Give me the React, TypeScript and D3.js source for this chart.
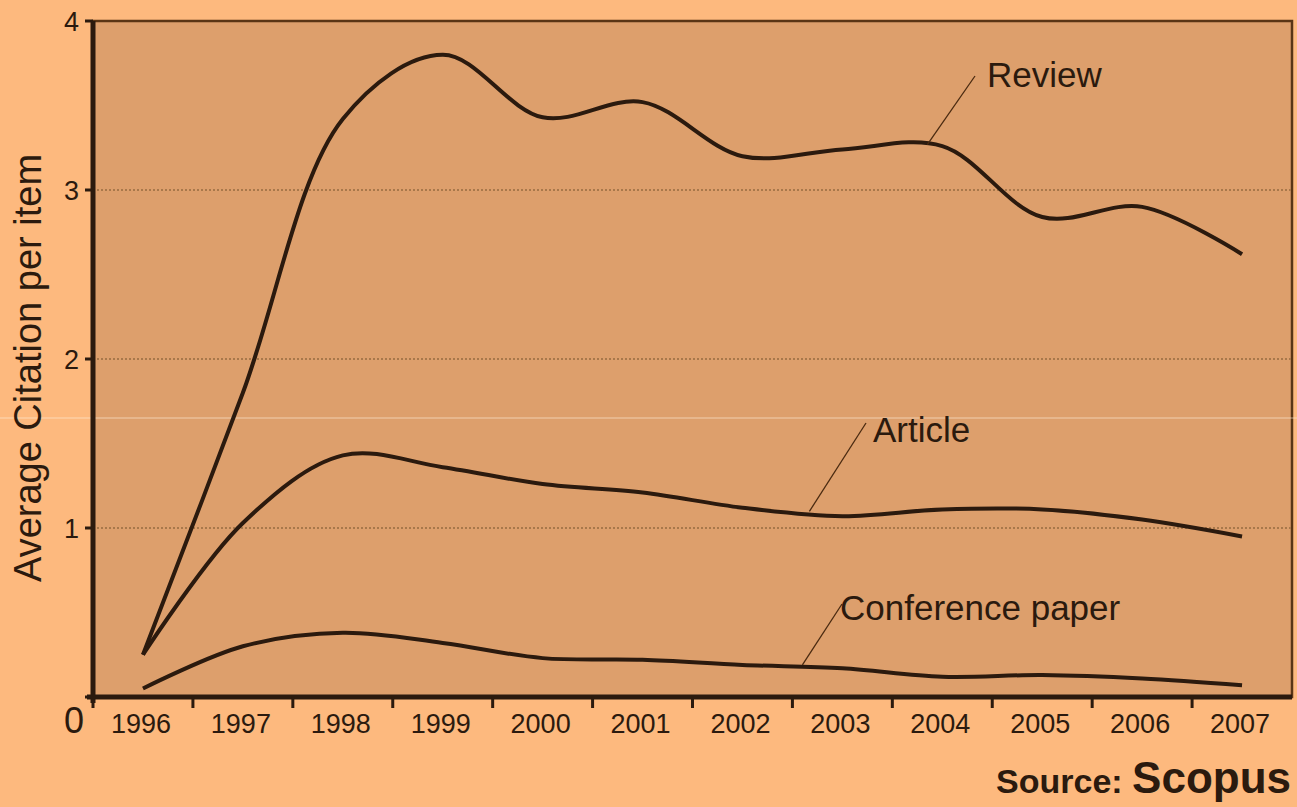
import React, { useEffect, useRef } from 'react';
import * as d3 from 'd3';

const years = ['1996', '1997', '1998', '1999', '2000', '2001', '2002', '2003', '2004', '2005', '2006', '2007'];
const reviewValues = [0.25, 1.8, 3.42, 3.8, 3.43, 3.52, 3.2, 3.24, 3.26, 2.84, 2.9, 2.62];
const articleValues = [0.25, 1.03, 1.43, 1.36, 1.26, 1.21, 1.12, 1.07, 1.11, 1.11, 1.05, 0.95];
const conferenceValues = [0.05, 0.3, 0.38, 0.32, 0.23, 0.22, 0.19, 0.17, 0.12, 0.13, 0.11, 0.07];
const yTicks = [0, 1, 2, 3, 4];

const W = 1297;
const H = 807;

export default function App() {
  const svgRef = useRef<SVGSVGElement>(null);

  useEffect(() => {
    if (!svgRef.current) return;
    const root = d3.select(svgRef.current);
    root.selectAll('*').remove();

    const left = 93, right = 1292, top = 21, bottom = 697;
    const ink = '#2b1a0e';
    const font = 'Liberation Sans, Arial, sans-serif';

    root.append('rect').attr('width', W).attr('height', H).attr('fill', '#fdb97e');
    root.append('rect')
      .attr('x', left).attr('y', top)
      .attr('width', right - left).attr('height', bottom - top)
      .attr('fill', '#dd9f6c')
      .attr('stroke', '#5a3515').attr('stroke-width', 2.5);

    const x = d3.scaleBand().domain(years).range([left, right]);
    const y = d3.scaleLinear().domain([0, 4]).range([bottom, top]);

    // dotted gridlines
    root.append('g').selectAll('line')
      .data([1, 2, 3])
      .enter().append('line')
      .attr('x1', left).attr('x2', right)
      .attr('y1', d => y(d)).attr('y2', d => y(d))
      .attr('stroke', '#a8784b').attr('stroke-width', 2)
      .attr('stroke-dasharray', '2,2');

    // faint scan streak across the picture
    root.append('line')
      .attr('x1', 0).attr('x2', W).attr('y1', 418).attr('y2', 418)
      .attr('stroke', '#fff1dd').attr('stroke-width', 1).attr('opacity', 0.6);

    // series
    const line = d3.line<number>()
      .x((d, i) => (x(years[i]) as number) + x.bandwidth() / 2)
      .y(d => y(d))
      .curve(d3.curveCatmullRom.alpha(0.5));

    [reviewValues, articleValues, conferenceValues].forEach(vals => {
      root.append('path')
        .datum(vals)
        .attr('fill', 'none')
        .attr('stroke', ink)
        .attr('stroke-width', 4)
        .attr('stroke-linejoin', 'round')
        .attr('d', line);
    });

    // labels with leader lines
    const labels = [
      { text: 'Review', year: '2003', frac: 0.85, vals: reviewValues, tx: 987, ty: 87, lx: 975, ly: 76 },
      { text: 'Article', year: '2002', frac: 0.67, vals: articleValues, tx: 873, ty: 442, lx: 866, ly: 423 },
      { text: 'Conference paper', year: '2002', frac: 0.6, vals: conferenceValues, tx: 840, ty: 620, lx: 842, ly: 604 },
    ];
    labels.forEach(l => {
      const i = years.indexOf(l.year);
      const cx = (x(years[i]) as number) + x.bandwidth() / 2;
      const px = cx + l.frac * x.step();
      const py = y(l.vals[i] + (l.vals[i + 1] - l.vals[i]) * l.frac);
      root.append('line')
        .attr('x1', px).attr('y1', py - 2)
        .attr('x2', l.lx).attr('y2', l.ly)
        .attr('stroke', '#4a2a10').attr('stroke-width', 1.3);
      root.append('text')
        .attr('x', l.tx).attr('y', l.ty)
        .attr('font-family', font).attr('font-size', 35)
        .attr('fill', ink)
        .text(l.text);
    });

    // axes
    const xAxis = root.append('g');
    xAxis.append('line')
      .attr('x1', left - 6).attr('x2', right).attr('y1', bottom).attr('y2', bottom)
      .attr('stroke', ink).attr('stroke-width', 5);
    xAxis.selectAll('line.tick')
      .data(years)
      .enter().append('line')
      .attr('class', 'tick')
      .attr('x1', d => x(d) as number).attr('x2', d => x(d) as number)
      .attr('y1', bottom).attr('y2', bottom + 11)
      .attr('stroke', ink).attr('stroke-width', 3);
    xAxis.selectAll('text')
      .data(years)
      .enter().append('text')
      .attr('x', d => (x(d) as number) + x.bandwidth() / 2 - 2)
      .attr('y', 733)
      .attr('text-anchor', 'middle')
      .attr('font-family', font).attr('font-size', 27)
      .attr('fill', ink)
      .text(d => d);

    const yAxis = root.append('g');
    yAxis.append('line')
      .attr('x1', left).attr('x2', left).attr('y1', top).attr('y2', bottom + 6)
      .attr('stroke', ink).attr('stroke-width', 5);
    yAxis.selectAll('line.tick')
      .data(yTicks)
      .enter().append('line')
      .attr('class', 'tick')
      .attr('x1', left - 8).attr('x2', left)
      .attr('y1', d => y(d)).attr('y2', d => y(d))
      .attr('stroke', ink).attr('stroke-width', 3);
    yAxis.selectAll('text')
      .data(yTicks)
      .enter().append('text')
      .attr('x', d => (d === 0 ? 84 : 79))
      .attr('y', d => (d === 0 ? 733 : y(d) + 10))
      .attr('text-anchor', 'end')
      .attr('font-family', font).attr('font-size', d => (d === 0 ? 36 : 27))
      .attr('fill', ink)
      .text(d => d);

    root.append('text')
      .attr('transform', `translate(41,368) rotate(-90)`)
      .attr('text-anchor', 'middle')
      .attr('font-family', font).attr('font-size', 38)
      .attr('fill', ink)
      .text('Average Citation per item');

    const src = root.append('text')
      .attr('x', 1291).attr('y', 793)
      .attr('text-anchor', 'end')
      .attr('font-family', font)
      .attr('fill', ink);
    src.append('tspan').attr('font-size', 34).attr('font-weight', 'bold').text('Source: ');
    src.append('tspan').attr('font-size', 44).attr('font-weight', 'bold').text('Scopus');
  }, []);

  return (
    <svg
      ref={svgRef}
      width={W}
      height={H}
      style={{ position: 'fixed', left: 0, top: 0, display: 'block' }}
    />
  );
}
